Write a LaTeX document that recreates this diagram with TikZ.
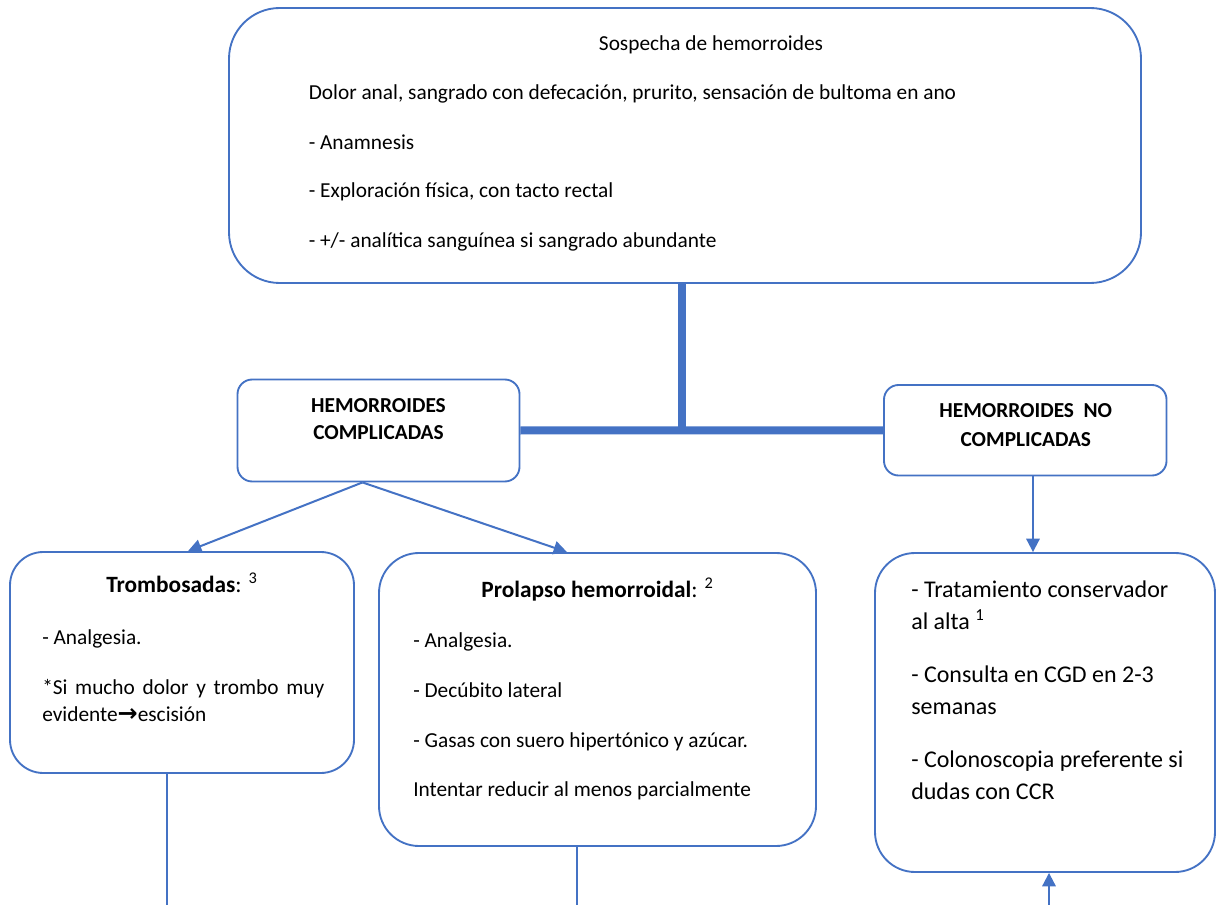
\documentclass[tikz,border=0pt]{standalone}
\usepackage{fontspec}
\setmainfont{Carlito}
\newfontfamily\dejavu{DejaVu Sans}
\usetikzlibrary{arrows.meta}
\definecolor{ob}{HTML}{4472C4}
\begin{document}
\begin{tikzpicture}[x=0.75pt,y=-0.75pt,
  box/.style={draw=ob,line width=1.4pt,fill=white,inner sep=0pt},
  txt/.style={inner sep=0pt,text height=0.65em,text depth=0pt,font=\fontsize{16}{19}\selectfont},
  hd/.style={txt,font=\fontsize{16}{19}\selectfont\bfseries},
  ttl/.style={txt,font=\fontsize{17.5}{21}\selectfont},
  big/.style={txt,font=\fontsize{18}{22}\selectfont},
  thickline/.style={draw=ob,line width=6pt},
  arr/.style={draw=ob,line width=1.5pt,-{Triangle[length=10pt,width=10pt]}},
  plain/.style={draw=ob,line width=1.1pt}
]
\useasboundingbox (0,0) rectangle (1217,905);
% boxes
\node[box,rounded corners=38pt,minimum width=684pt,minimum height=206.25pt] (top) at (685,145.5) {};
\node[box,rounded corners=11pt,minimum width=211.5pt,minimum height=76.5pt] (comp) at (378.5,430.5) {};
\node[box,rounded corners=11pt,minimum width=211.9pt,minimum height=67.9pt] (nocomp) at (1025.25,430.25) {};
\node[box,rounded corners=25pt,minimum width=258pt,minimum height=165.75pt] (trom) at (182,662.5) {};
\node[box,rounded corners=30pt,minimum width=327.75pt,minimum height=219.75pt] (prol) at (597.5,699.5) {};
\node[box,rounded corners=30pt,minimum width=255pt,minimum height=239.25pt] (trat) at (1045,712.5) {};
% top text
\node[txt] (t0) at (711,46) {Sospecha de hemorroides};
\node[txt,anchor=west] (t1) at (308.5,95) {Dolor anal, sangrado con defecación, prurito, sensación de bultoma en ano};
\node[txt,anchor=west] (t2) at (308.5,145) {- Anamnesis};
\node[txt,anchor=west] (t3) at (308.5,193) {- Exploración física, con tacto rectal};
\node[txt,anchor=west] (t4) at (308.5,243) {- +/- analítica sanguínea si sangrado abundante};
% headings
\node[hd] (c1) at (378.5,408) {HEMORROIDES};
\node[hd] (c2) at (378.5,435) {COMPLICADAS};
\node[hd] (n1) at (1025.8,413) {HEMORROIDES~ NO};
\node[hd] (n2) at (1025.8,441.7) {COMPLICADAS};
% trombosadas
\node[ttl] (tr0) at (182,588) {\textbf{Trombosadas}: \textsuperscript{3}};
\node[txt,anchor=west] (tr1) at (42,640) {- Analgesia.};
\node[txt,anchor=west] (tr2) at (42,690) {\makebox[211.5pt][s]{*Si mucho dolor y trombo muy}};
\node[txt,anchor=west] (tr3) at (42,717) {evidente{\dejavu\bfseries\fontsize{18}{19}\selectfont →}escisión};
% prolapso
\node[ttl] (p0) at (597.5,593) {\textbf{Prolapso hemorroidal}: \textsuperscript{2}};
\node[txt,anchor=west] (p1) at (413,643) {- Analgesia.};
\node[txt,anchor=west] (p2) at (413,693) {- Decúbito lateral};
\node[txt,anchor=west] (p3) at (413,743) {- Gasas con suero hipertónico y azúcar.};
\node[txt,anchor=west] (p4) at (413,792) {Intentar reducir al menos parcialmente};
% tratamiento
\node[big,anchor=west] (r1) at (911,593) {- Tratamiento conservador};
\node[big,anchor=west] (r2) at (911,625) {al alta \textsuperscript{1}};
\node[big,anchor=west] (r3) at (911,678) {- Consulta en CGD en 2-3};
\node[big,anchor=west] (r4) at (911,710) {semanas};
\node[big,anchor=west] (r5) at (911,763) {- Colonoscopia preferente si};
\node[big,anchor=west] (r6) at (911,795) {dudas con CCR};
% connectors
\draw[thickline] ([xshift=-2.25pt]top.south) -- ([xshift=-2.25pt]top.south |- comp.east);
\draw[thickline] (comp.east) -- (nocomp.west);
\draw[arr] ([xshift=-12pt]comp.south) -- ([xshift=4.5pt]trom.north);
\draw[arr] ([xshift=-12pt]comp.south) -- ([xshift=-22.9pt]prol.north);
\draw[arr] ([xshift=5.8pt]nocomp.south) -- ([xshift=5.8pt]nocomp.south |- trat.north);
\coordinate (b1) at (167,905);
\coordinate (b2) at (577,905);
\coordinate (b3) at (1049,905);
\draw[plain] (b1 |- trom.south) -- (b1);
\draw[plain] (b2 |- prol.south) -- (b2);
\draw[arr] (b3) -- (b3 |- trat.south);
\end{tikzpicture}
\end{document}
